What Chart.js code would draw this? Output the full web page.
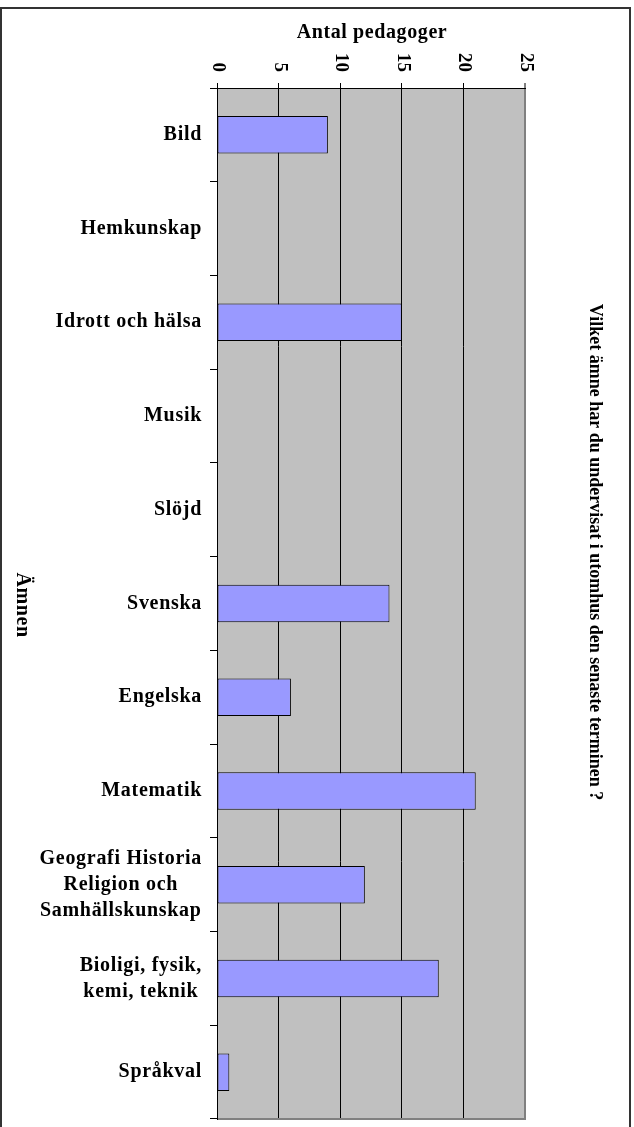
<!DOCTYPE html>
<html>
<head>
<meta charset="utf-8">
<script src="https://cdn.jsdelivr.net/npm/chart.js@4.4.1/dist/chart.umd.min.js"></script>
<style>
  html, body { margin: 0; padding: 0; background: #fff; overflow: hidden; }
  #frame {
    position: absolute; left: 0; top: 7px; width: 631px; height: 1140px;
    border: 2px solid #333; box-sizing: border-box;
  }
  #wrap { position: absolute; left: 0; top: 0; width: 634px; height: 1127px; }
</style>
</head>
<body>
<div id="frame"></div>
<div id="wrap"><canvas id="subject_chart"></canvas></div>
<script>
const subjects = [
  'Bild',
  'Hemkunskap',
  'Idrott och hälsa',
  'Musik',
  'Slöjd',
  'Svenska',
  'Engelska',
  'Matematik',
  ['Geografi Historia', 'Religion och', 'Samhällskunskap'],
  ['Bioligi, fysik,', 'kemi, teknik'],
  'Språkval'
];
const teacher_counts = [9, 0, 15, 0, 0, 14, 6, 21, 12, 18, 1];
const count_ticks = [0, 5, 10, 15, 20, 25];

const chart_title = 'Vilket ämne har du undervisat i utomhus den senaste terminen ?';
const value_axis_title = 'Antal pedagoger';
const category_axis_title = 'Ämnen';

const serif = '"Liberation Serif", "Times New Roman", serif';

const excel_look = {
  id: 'excel_look',
  beforeDraw: (chart) => {
    const { ctx, chartArea: a } = chart;
    ctx.save();
    ctx.fillStyle = '#C0C0C0';
    ctx.fillRect(a.left, a.top, a.right - a.left, a.bottom - a.top);
    ctx.restore();
  },
  afterDraw: (chart) => {
    const { ctx, chartArea: a, scales } = chart;
    const x = scales.x;
    const y = scales.y;
    ctx.save();

    // plot area border, bottom side
    ctx.strokeStyle = '#808080';
    ctx.lineWidth = 2;
    ctx.beginPath();
    ctx.moveTo(a.left + 1, a.bottom);
    ctx.lineTo(a.right + 1, a.bottom);
    ctx.stroke();

    ctx.fillStyle = '#000';

    // value tick labels, turned a quarter clockwise
    ctx.font = `bold 19px ${serif}`;
    ctx.letterSpacing = '0px';
    ctx.textAlign = 'right';
    ctx.textBaseline = 'middle';
    x.ticks.forEach((t) => {
      const px = x.getPixelForValue(t.value);
      ctx.save();
      ctx.translate(px + 1, a.top - 16);
      ctx.rotate(Math.PI / 2);
      ctx.fillText(String(t.value), 0, 0);
      ctx.restore();
    });

    // category labels, block right aligned, lines centred
    ctx.font = `bold 20px ${serif}`;
    ctx.letterSpacing = '0.7px';
    ctx.textAlign = 'center';
    const line_h = 26;
    subjects.forEach((label, i) => {
      const lines = Array.isArray(label) ? label : [label];
      const block_w = Math.max(...lines.map((l) => ctx.measureText(l).width));
      const cx = 202 - block_w / 2;
      const cy = y.getPixelForValue(i);
      lines.forEach((l, k) => {
        ctx.fillText(l, cx, cy + (k - (lines.length - 1) / 2) * line_h);
      });
    });

    // axis titles
    ctx.letterSpacing = '0.6px';
    ctx.fillText(value_axis_title, 372, 33);

    ctx.save();
    ctx.translate(22, 605);
    ctx.rotate(Math.PI / 2);
    ctx.fillText(category_axis_title, 0, 0);
    ctx.restore();

    // chart title on the right
    ctx.font = `bold 18px ${serif}`;
    ctx.letterSpacing = '0px';
    ctx.save();
    ctx.translate(595, 552);
    ctx.rotate(Math.PI / 2);
    ctx.fillText(chart_title, 0, 0);
    ctx.restore();

    ctx.restore();
  }
};

const canvas = document.getElementById('subject_chart');
const config = {
  type: 'bar',
  data: {
    labels: subjects,
    datasets: [
      {
        data: teacher_counts,
        backgroundColor: '#9999FF',
        borderColor: '#000',
        borderWidth: 1,
        borderSkipped: false,
        barPercentage: 0.4,
        categoryPercentage: 1
      }
    ]
  },
  options: {
    indexAxis: 'y',
    responsive: true,
    maintainAspectRatio: false,
    animation: false,
    layout: {
      padding: { left: 0, top: 0, right: 109, bottom: 8 }
    },
    scales: {
      x: {
        position: 'top',
        min: 0,
        max: 25,
        afterBuildTicks: (scale) => {
          scale.ticks = count_ticks.map((v) => ({ value: v }));
        },
        afterFit: (scale) => {
          scale.height = 88;
        },
        ticks: { display: false },
        border: { display: true, color: '#000', width: 1 },
        grid: {
          color: (c) => (c.tick && c.tick.value === 25 ? '#808080' : '#000'),
          lineWidth: (c) => (c.tick && c.tick.value === 25 ? 2 : 1),
          tickColor: '#000',
          tickWidth: 1,
          tickLength: 5,
          drawTicks: true
        }
      },
      y: {
        afterFit: (scale) => {
          scale.width = 217;
        },
        ticks: { display: false },
        border: { display: true, color: '#000', width: 1 },
        grid: {
          drawOnChartArea: false,
          drawTicks: true,
          tickLength: 7,
          tickColor: '#000',
          tickWidth: 1
        }
      }
    },
    plugins: {
      legend: { display: false },
      tooltip: { enabled: false }
    }
  },
  plugins: [excel_look]
};

new Chart(canvas, config);
</script>
</body>
</html>
